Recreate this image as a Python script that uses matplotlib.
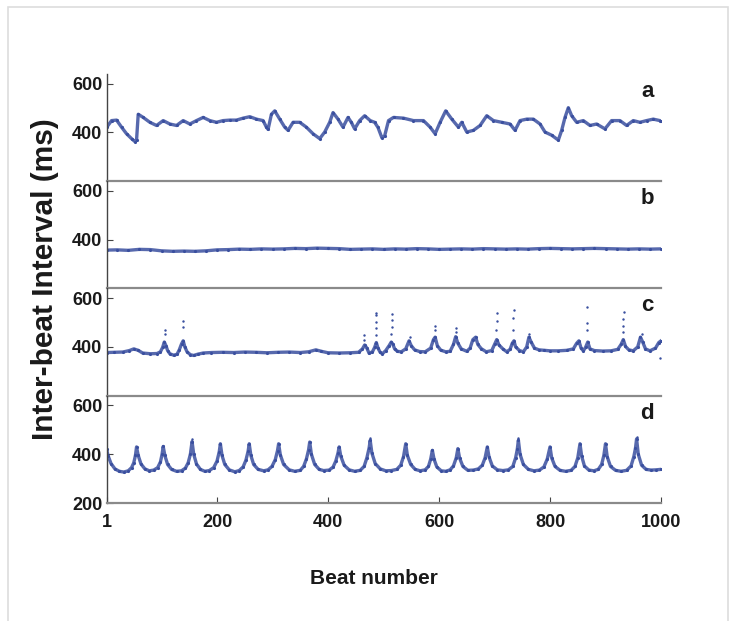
import numpy as np
import matplotlib
matplotlib.use('Agg')
import matplotlib.pyplot as plt
from matplotlib.patches import Rectangle

plt.rcParams['font.family'] = ['Liberation Sans', 'DejaVu Sans']

# inter-beat intervals (ms) against beat number, four recordings a-d
beat_a = [1, 10, 19, 28, 37, 46, 52, 55, 58, 67, 79, 91, 103, 115, 127, 139, 151, 163, 175, 187,
          199, 211, 223, 235, 247, 259, 271, 283, 289, 292, 298, 304, 313, 322, 328, 337, 349, 361,
          373, 385, 394, 403, 409, 418, 427, 436, 442, 448, 457, 466, 476, 484, 490, 497, 502, 509,
          518, 536, 554, 572, 584, 593, 602, 612, 623, 635, 641, 650, 662, 674, 686, 698, 713, 728,
          737, 746, 758, 770, 782, 791, 803, 815, 821, 827, 833, 839, 848, 860, 872, 884, 899, 911,
          926, 938, 950, 962, 974, 986, 998, 1000]
ibi_a = [420, 448, 450, 421, 394, 374, 362, 368, 474, 461, 441, 428, 448, 434, 428, 448, 434, 448, 461, 448,
         441, 448, 450, 450, 458, 464, 454, 448, 421, 412, 474, 488, 454, 421, 408, 441, 441, 421,
         394, 374, 401, 441, 481, 454, 421, 461, 441, 414, 448, 468, 448, 441, 420, 378, 385, 448,
         461, 458, 448, 448, 421, 394, 441, 488, 454, 421, 441, 401, 408, 428, 468, 448, 441, 434,
         408, 448, 454, 454, 434, 401, 388, 368, 408, 461, 501, 468, 441, 448, 428, 434, 414, 448,
         448, 428, 448, 441, 448, 454, 448, 446]

beat_b = [1, 20, 40, 60, 80, 100, 120, 140, 160, 180, 200, 220, 240, 260, 280, 300, 320, 340, 360, 380,
          400, 420, 440, 460, 480, 500, 520, 540, 560, 580, 600, 620, 640, 660, 680, 700, 720, 740,
          760, 780, 800, 820, 840, 860, 880, 900, 920, 940, 960, 980, 1000]
ibi_b = [357, 358, 356, 360, 359, 354, 352, 353, 352, 354, 358, 359, 361, 360, 362, 361, 362, 364, 363, 365,
         364, 363, 360, 361, 362, 360, 362, 361, 363, 362, 360, 361, 362, 361, 363, 362, 361, 362,
         361, 363, 364, 363, 362, 363, 364, 363, 362, 361, 362, 361, 362]

beat_c = [1, 15, 30, 42, 50, 58, 66, 80, 92, 98, 102, 105, 108, 111, 115, 122, 128, 132, 136, 139,
          142, 146, 152, 158, 165, 175, 190, 210, 230, 250, 270, 290, 310, 330, 350, 365, 378, 388,
          400, 420, 440, 455, 462, 466, 470, 474, 480, 484, 487, 490, 494, 498, 504, 510, 514, 517,
          520, 525, 532, 540, 546, 550, 556, 565, 575, 585, 590, 593, 597, 603, 612, 620, 626, 630,
          634, 640, 650, 656, 661, 666, 670, 676, 685, 695, 700, 704, 708, 715, 722, 728, 732, 735,
          738, 745, 752, 758, 762, 766, 772, 780, 790, 800, 815, 830, 842, 848, 852, 856, 860, 864,
          868, 872, 880, 895, 910, 922, 928, 932, 936, 942, 950, 958, 963, 967, 972, 980, 990, 996, 1000]
ibi_c = [377, 378, 379, 385, 392, 386, 375, 372, 373, 380, 398, 420, 405, 385, 372, 366, 370, 388, 412, 425,
         400, 380, 368, 365, 370, 375, 377, 378, 377, 379, 378, 376, 378, 379, 377, 380, 388, 382,
         376, 375, 376, 378, 392, 408, 395, 374, 380, 398, 418, 395, 378, 372, 385, 405, 420, 410,
         392, 382, 380, 392, 425, 405, 388, 381, 380, 395, 430, 440, 405, 387, 380, 382, 410, 442,
         415, 392, 382, 395, 430, 440, 410, 393, 380, 385, 410, 430, 408, 392, 380, 390, 415, 425,
         400, 385, 380, 400, 440, 420, 395, 388, 386, 384, 384, 386, 392, 415, 425, 395, 384, 398,
         420, 392, 385, 383, 384, 390, 410, 430, 402, 388, 384, 400, 440, 420, 392, 384, 395, 418, 425]

# isolated long beats standing above the trace in c
beat_c_extra = [106, 106, 139, 139, 465, 465, 486, 486, 486, 486, 487, 514, 515, 515, 516, 547, 592, 592,
                630, 630, 703, 704, 704, 734, 734, 735, 763, 866, 866, 867, 932, 932, 932, 933, 965, 998]
ibi_c_extra = [455, 470, 480, 505, 430, 450, 450, 476, 504, 530, 540, 455, 480, 510, 535, 440, 470, 485,
               460, 478, 470, 505, 538, 470, 520, 550, 455, 470, 500, 565, 460, 485, 515, 545, 455, 356]

beat_d = [1, 4, 9, 16, 24, 32, 40, 46, 50, 53, 55, 58, 63, 70, 78, 86, 93, 98, 101, 103,
          106, 111, 118, 127, 136, 143, 148, 152, 155, 158, 163, 170, 178, 186, 194, 200, 204, 206,
          209, 214, 222, 232, 240, 247, 252, 256, 258, 261, 266, 274, 284, 292, 299, 305, 309, 311,
          314, 320, 330, 340, 350, 356, 361, 365, 367, 370, 376, 384, 392, 402, 409, 414, 418, 420,
          423, 429, 438, 448, 458, 465, 470, 474, 476, 479, 485, 494, 504, 514, 524, 531, 536, 540,
          543, 549, 557, 566, 575, 581, 585, 588, 591, 596, 604, 612, 620, 626, 631, 634,
          637, 643, 652, 662, 671, 678, 683, 687, 690, 696, 705, 715, 725, 733, 738, 741, 743,
          746, 752, 761, 771, 781, 789, 795, 800, 803, 809, 818, 828, 838, 845, 850, 854,
          857, 862, 870, 879, 887, 893, 897, 900, 903, 909, 918, 928, 938, 946, 951, 954, 956,
          959, 965, 973, 982, 991, 1000]
ibi_d = [420, 392, 362, 340, 330, 327, 332, 345, 365, 395, 430, 395, 360, 340, 332, 335, 345, 368, 400, 432,
         395, 358, 338, 330, 332, 343, 365, 400, 452, 400, 360, 338, 330, 333, 345, 372, 410, 443,
         395, 358, 336, 328, 333, 348, 375, 412, 443, 395, 358, 338, 332, 336, 350, 378, 415, 443,
         398, 358, 336, 330, 334, 350, 380, 418, 450, 400, 358, 338, 333, 335, 347, 372, 405, 430,
         392, 355, 336, 330, 334, 350, 385, 425, 457, 405, 362, 340, 332, 333, 338, 355, 390, 443,
         395, 358, 338, 332, 336, 350, 380, 416, 380, 348, 332, 330, 336, 352, 385, 423,
         385, 350, 334, 335, 340, 355, 385, 430, 390, 352, 336, 333, 336, 350, 385, 420, 457,
         400, 358, 338, 332, 335, 348, 380, 430, 385, 350, 334, 330, 334, 350, 385, 443,
         392, 352, 335, 332, 338, 358, 395, 443, 390, 350, 334, 330, 334, 352, 390, 425, 463,
         400, 355, 338, 335, 336, 338]

beat_d_extra = [155, 476, 743, 956]
ibi_d_extra = [462, 466, 466, 470]

letters = ['a', 'b', 'c', 'd']
series = [(beat_a, ibi_a, [], []),
          (beat_b, ibi_b, [], []),
          (beat_c, ibi_c, beat_c_extra, ibi_c_extra),
          (beat_d, ibi_d, beat_d_extra, ibi_d_extra)]
xticks = [1, 200, 400, 600, 800, 1000]

DOT = '#3a4f9f'


def drawPanel(ax, beats, ibi, xb, xv, letter, last):
    ax.plot(beats, ibi, '-', color=DOT, lw=2.4, alpha=0.85, solid_joinstyle='round')
    ax.plot(beats, ibi, '.', color=DOT, ms=4.5, mew=0)
    if xb:
        ax.plot(xb, xv, '.', color=DOT, ms=3.5, mew=0)
    ax.set_xlim(1, 1000)
    ax.set_ylim(200, 640)
    for s in ['top', 'right']:
        ax.spines[s].set_visible(False)
    ax.spines['left'].set_color('#444444')
    ax.spines['left'].set_linewidth(1.0)
    ax.spines['bottom'].set_color('#8a8a8a')
    ax.spines['bottom'].set_linewidth(1.6)
    ax.tick_params(axis='y', direction='in', length=4, width=0.8, colors='#444444',
                   labelcolor='#1a1a1a', labelsize=13, pad=3)
    ax.tick_params(axis='x', direction='in', length=4, width=0.8, colors='#444444',
                   labelcolor='#1a1a1a', labelsize=13, pad=8)
    if last:
        ax.set_yticks([200, 400, 600])
        ax.set_xticks(xticks)
        ax.set_xticklabels([str(t) for t in xticks], fontweight='bold')
    else:
        ax.set_yticks([400, 600])
        ax.set_xticks([])
    ax.set_yticklabels([str(int(t)) for t in ax.get_yticks()], fontweight='bold')
    ax.text(975, 568, letter, ha='center', va='center', fontsize=16,
            fontweight='bold', color='#1a1a1a')


fig = plt.figure(figsize=(7.3, 6.21), dpi=100)

# thin frame around the whole figure
fig.patches.append(Rectangle((8 / 730, -0.02), 720 / 730, 1.0087, transform=fig.transFigure,
                             fill=False, edgecolor='#dddddd', lw=1.2))

left, width = 0.146, 0.7595
height = 0.1728
bottom0 = 0.190
for i, (b, v, xb, xv) in enumerate(series):
    ax = fig.add_axes([left, bottom0 + (3 - i) * height, width, height])
    ax.patch.set_alpha(0)
    drawPanel(ax, b, v, xb, xv, letters[i], i == 3)

fig.text(45 / 730, 1 - 279 / 621, 'Inter-beat Interval (ms)', rotation=90,
         ha='center', va='center', fontsize=21.5, fontweight='bold', color='#1a1a1a')
fig.text(374 / 730, 1 - 578 / 621, 'Beat number', ha='center', va='center',
         fontsize=15, fontweight='bold', color='#1a1a1a')

fig.savefig('out.png', dpi=100)
